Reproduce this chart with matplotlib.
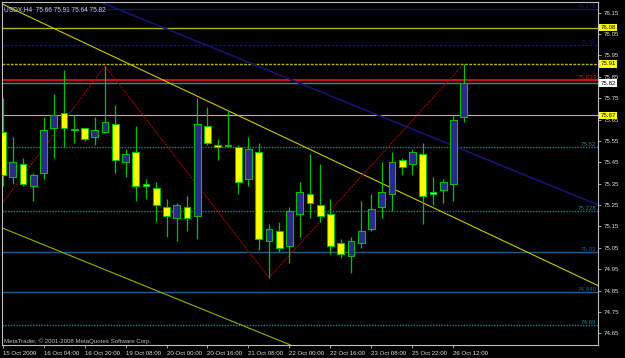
import matplotlib
matplotlib.use("Agg")
import matplotlib.pyplot as plt
import matplotlib.transforms as mtransforms

plt.rcParams['font.family'] = ['Liberation Sans', 'DejaVu Sans']

# USDX H4 bars (bar index 0 = 15 Oct 12:00)
opens = [75.59, 75.38, 75.44, 75.34, 75.40, 75.61, 75.68, 75.60, 75.61, 75.57,
         75.59, 75.63, 75.45, 75.50, 75.35, 75.33, 75.24, 75.19, 75.24, 75.20,
         75.62, 75.53, 75.53, 75.52, 75.37, 75.50, 75.08, 75.13, 75.06, 75.21,
         75.30, 75.25, 75.21, 75.07, 75.01, 75.07, 75.14, 75.24, 75.30, 75.46,
         75.44, 75.49, 75.31, 75.32, 75.35, 75.66]
highs = [75.75, 75.57, 75.47, 75.40, 75.66, 75.77, 75.88, 75.67, 75.61, 75.66,
         75.90, 75.72, 75.51, 75.62, 75.37, 75.36, 75.28, 75.26, 75.29, 75.75,
         75.71, 75.56, 75.69, 75.53, 75.57, 75.54, 75.16, 75.17, 75.24, 75.36,
         75.49, 75.44, 75.28, 75.09, 75.10, 75.27, 75.30, 75.45, 75.50, 75.47,
         75.51, 75.54, 75.38, 75.37, 75.67, 75.91]
lows = [75.34, 75.35, 75.34, 75.27, 75.37, 75.47, 75.52, 75.54, 75.55, 75.53,
        75.59, 75.40, 75.38, 75.27, 75.28, 75.17, 75.10, 75.08, 75.13, 75.09,
        75.53, 75.46, 75.52, 75.30, 75.34, 75.04, 74.91, 75.03, 74.98, 75.10,
        75.19, 75.17, 75.02, 75.00, 74.93, 75.05, 75.13, 75.19, 75.22, 75.39,
        75.39, 75.16, 75.25, 75.26, 75.27, 75.64]
closes = [75.39, 75.45, 75.35, 75.39, 75.60, 75.67, 75.61, 75.60, 75.56, 75.60,
          75.64, 75.46, 75.49, 75.34, 75.34, 75.25, 75.20, 75.25, 75.19, 75.63,
          75.54, 75.52, 75.525, 75.36, 75.51, 75.09, 75.14, 75.05, 75.22, 75.31,
          75.26, 75.20, 75.06, 75.02, 75.08, 75.13, 75.23, 75.31, 75.45, 75.43,
          75.50, 75.29, 75.30, 75.36, 75.65, 75.82]

tick_bars = [0, 4, 8, 12, 16, 20, 24, 28, 32, 36, 40, 44]
tick_labels = ["15 Oct 2009", "16 Oct 04:00", "16 Oct 20:00", "19 Oct 08:00",
               "20 Oct 00:00", "20 Oct 16:00", "21 Oct 08:00", "22 Oct 00:00",
               "22 Oct 16:00", "23 Oct 08:00", "25 Oct 22:00", "26 Oct 12:00"]
price_ticks = [76.15, 76.05, 75.95, 75.85, 75.75, 75.65, 75.55, 75.45,
               75.35, 75.25, 75.15, 75.05, 74.95, 74.85, 74.75, 74.65]

# fibo / level lines with their text labels
level_prices = [76.165, 76.00, 75.834, 75.52, 75.222, 75.032, 74.843, 74.69]
level_texts = ["76.178", "76.00", "75.834", "75.52", "75.228", "75.03", "74.840", "74.69"]
level_colors = ["#141470", "#141470", "#d01010", "#1f8090", "#1f8090",
                "#1f5f8f", "#1f5f8f", "#1f8090"]
level_styles = ["-", (0, (2, 1)), "-", (0, (1, 1)), (0, (1, 1)), "-", "-", (0, (1, 1))]

# yellow horizontal lines with boxed labels on the price scale
box_prices = [76.08, 75.91, 75.67]
bid_price = 75.82

# zigzag and trend lines (bar index, price)
zigzag_bars = [0, 10, 26, 45]
zigzag_prices = [75.26, 75.90, 74.91, 75.91]
trend_upper = [(0, 76.19), (58.15, 74.872)]
trend_lower = [(0, 75.142), (27.9, 74.599)]
trend_navy = [(9.56, 76.20), (58.15, 75.25)]

fs = 4.4

fig = plt.figure(figsize=(6.25, 3.58), dpi=100, facecolor="black")
ax = fig.add_axes([2 / 625, 13 / 358, 596 / 625, 343 / 358], facecolor="black")

ax.set_xlim(-0.05, 58.1)
ax.set_ylim(74.595, 76.20)

# horizontal levels
for p, t, c, ls in zip(level_prices, level_texts, level_colors, level_styles):
    ax.axhline(p, color=c, lw=1.0 if c != "#d01010" else 1.4, ls=ls, zorder=1)
    ax.text(0.997, p, t, color=c, fontsize=fs, ha="right", va="bottom",
            transform=ax.get_yaxis_transform())
ax.axhline(box_prices[0], color="#b4b400", lw=1.0, zorder=1)
ax.axhline(box_prices[1], color="#b4b400", lw=1.0, ls=(0, (2, 1)), zorder=1)
ax.axhline(box_prices[2], color="#c8c800", lw=0.8, zorder=1)
ax.axhline(bid_price, color="#6a7880", lw=1.0, zorder=1)

# trend lines
ax.axline(trend_upper[0], trend_upper[1], color="#c8c800", lw=0.8, zorder=1)
ax.axline(trend_lower[0], trend_lower[1], color="#8cb400", lw=0.8, zorder=1)
ax.axline(trend_navy[0], trend_navy[1], color="#141470", lw=1.2, zorder=1)
ax.plot(zigzag_bars, zigzag_prices, color="#b00000", lw=0.8, ls=(0, (1.5, 1)), zorder=2)

# candles
bars = list(range(len(opens)))
ax.vlines(bars, lows, highs, color="#00c000", lw=0.9, zorder=3)
bottoms = [min(o, c) for o, c in zip(opens, closes)]
heights = [max(abs(c - o), 0.008) for o, c in zip(opens, closes)]
fills = ["#2a2a88" if c > o else "#ffff00" for o, c in zip(opens, closes)]
ax.bar(bars, heights, bottom=bottoms, width=0.64, color=fills,
       edgecolor="#00c000", linewidth=0.8, zorder=4)

# axes styling
for side in ["left", "top", "right", "bottom"]:
    ax.spines[side].set_color("#c0c0c0")
    ax.spines[side].set_linewidth(0.8)
ax.yaxis.tick_right()
ax.set_yticks(price_ticks)
ax.set_yticklabels([f"{v:.2f}" for v in price_ticks])
ax.set_xticks(tick_bars)
ax.set_xticklabels(tick_labels, ha="left")
ax.tick_params(axis="both", colors="#c0c0c0", labelcolor="#e0e0e0",
               labelsize=fs, length=2.5, width=0.6, pad=1.5)

# boxed price labels on the scale
box_tf = mtransforms.blended_transform_factory(ax.transAxes, ax.transData)
for p in box_prices:
    ax.text(1.004, p, f"{p:.2f}", fontsize=fs, color="black", ha="left", va="center",
            transform=box_tf, clip_on=False, zorder=6,
            bbox=dict(boxstyle="square,pad=0.2", fc="#ffff00", ec="none"))
ax.text(1.004, bid_price, f"{bid_price:.2f}", fontsize=fs, color="black", ha="left",
        va="center", transform=box_tf, clip_on=False, zorder=6,
        bbox=dict(boxstyle="square,pad=0.2", fc="white", ec="none"))

ax.text(0.004, 0.988, "USDX,H4  75.66 75.91 75.64 75.82", color="#d0d0d0",
        fontsize=fs + 0.3, ha="left", va="top", transform=ax.transAxes)
ax.text(0.004, 0.004, "MetaTrader, \u00a9 2001-2008 MetaQuotes Software Corp.",
        color="#c0c0c0", fontsize=fs, ha="left", va="bottom", transform=ax.transAxes)

fig.savefig("out.png", dpi=100, facecolor="black")
